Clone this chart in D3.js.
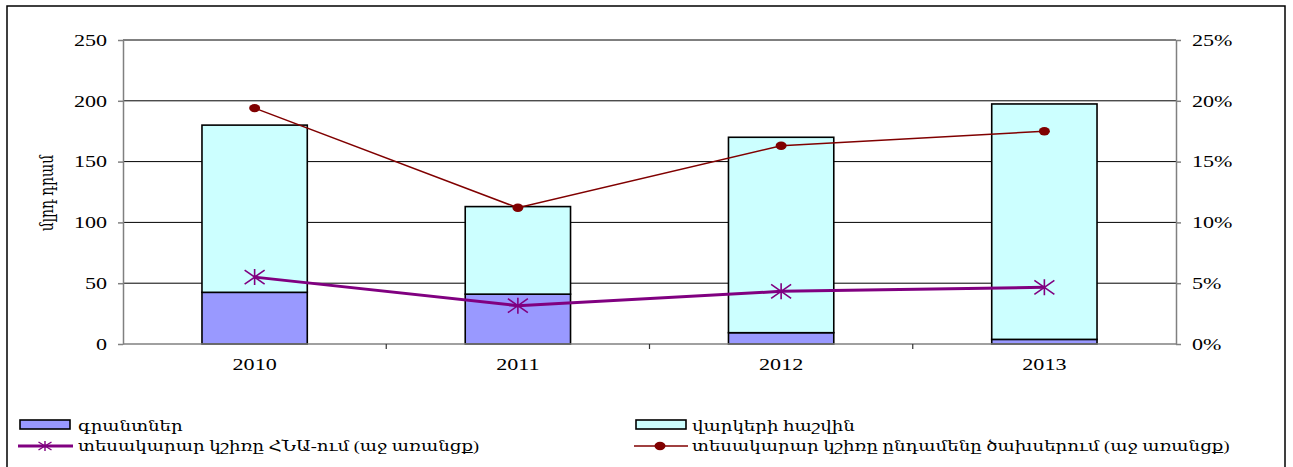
<!DOCTYPE html>
<html>
  <head>
    <meta charset="utf-8">
    <script src="https://cdn.jsdelivr.net/npm/d3@7"></script>
    <style>
      body { margin: 0; background: #fff; }
      text { font-family: "Liberation Serif", "DejaVu Serif", serif; fill: #000; }
    </style>
  </head>
  <body>
    <svg width="1293" height="467" id="mainsvg"></svg>
    <script>
      // data
      const years = ['2010', '2011', '2012', '2013'];
      const grants = [42.5, 41, 9.3, 3.8];
      const loans = [137.5, 72, 160.7, 193.6];
      const shareGdp = [5.5, 3.15, 4.33, 4.66];
      const shareSpend = [19.4, 11.2, 16.3, 17.5];
      const leftTicks = [0, 50, 100, 150, 200, 250];
      const rightTicks = [0, 5, 10, 15, 20, 25];
      const yAxisLabel = 'մլրդ դրամ';
      const seriesNames = ['գրանտներ', 'վարկերի հաշվին',
        'տեսակարար կշիռը ՀՆԱ-ում (աջ առանցք)',
        'տեսակարար կշիռը ընդամենը ծախսերում (աջ առանցք)'];

      const svg = d3.select('#mainsvg');
      const sx = 1.38; // the reference text is stretched horizontally
      const plot = {left: 123, right: 1176, top: 40, bottom: 344};

      // outer frame
      svg.append('rect').attr('x', 7).attr('y', 6).attr('width', 1278).attr('height', 480)
        .attr('fill', 'none').attr('stroke', '#000').attr('stroke-width', 1.5);

      const x = d3.scaleBand().domain(years).range([plot.left, plot.right]).paddingInner(0);
      const yL = d3.scaleLinear().domain([0, 250]).range([plot.bottom, plot.top]);
      const yR = d3.scaleLinear().domain([0, 25]).range([plot.bottom, plot.top]);
      const barW = x.bandwidth() * 0.4;
      const cx = d => x(d) + x.bandwidth() / 2;

      const stretchText = (sel, tx, ty, k = sx) => sel.attr('x', 0).attr('y', 0)
        .attr('transform', `translate(${tx},${ty}) scale(${k},1)`);

      // gridlines
      svg.append('g').selectAll('line').data(leftTicks.slice(1)).join('line')
        .attr('x1', plot.left).attr('x2', plot.right)
        .attr('y1', d => yL(d)).attr('y2', d => yL(d))
        .attr('stroke', '#000').attr('stroke-width', 1);

      // stacked bars
      const stack = years.map((yr, i) => ({yr, g: grants[i], l: loans[i]}));
      const bars = svg.append('g');
      bars.selectAll('.grant').data(stack).join('rect').attr('class', 'grant')
        .attr('x', d => cx(d.yr) - barW / 2).attr('width', barW)
        .attr('y', d => yL(d.g)).attr('height', d => yL(0) - yL(d.g))
        .attr('fill', '#9999ff').attr('stroke', '#000').attr('stroke-width', 1.6);
      bars.selectAll('.loan').data(stack).join('rect').attr('class', 'loan')
        .attr('x', d => cx(d.yr) - barW / 2).attr('width', barW)
        .attr('y', d => yL(d.g + d.l)).attr('height', d => yL(d.g) - yL(d.g + d.l))
        .attr('fill', '#ccffff').attr('stroke', '#000').attr('stroke-width', 1.6);

      // left axis
      const axL = svg.append('g').attr('transform', `translate(${plot.left},0)`)
        .call(d3.axisLeft(yL).tickValues(leftTicks).tickSize(5).tickSizeOuter(0));
      axL.select('.domain').attr('stroke', '#808080').attr('stroke-width', 1.5);
      axL.selectAll('.tick line').attr('stroke', '#808080').attr('stroke-width', 1.5);
      axL.selectAll('.tick text').attr('dy', null).attr('font-size', 16)
        .attr('font-family', '"Liberation Serif", serif')
        .attr('dominant-baseline', 'central').attr('text-anchor', 'end')
        .each(function () { stretchText(d3.select(this), -16, 0); });

      // right axis
      const axR = svg.append('g').attr('transform', `translate(${plot.right},0)`)
        .call(d3.axisRight(yR).tickValues(rightTicks).tickSize(5).tickSizeOuter(0)
          .tickFormat(d => d + '%'));
      axR.select('.domain').attr('stroke', '#808080').attr('stroke-width', 1.5);
      axR.selectAll('.tick line').attr('stroke', '#808080').attr('stroke-width', 1.5);
      axR.selectAll('.tick text').attr('dy', null).attr('font-size', 16)
        .attr('font-family', '"Liberation Serif", serif')
        .attr('dominant-baseline', 'central').attr('text-anchor', 'start')
        .each(function () { stretchText(d3.select(this), 16, 0); });

      // bottom axis
      const axB = svg.append('g');
      axB.append('line').attr('x1', plot.left).attr('x2', plot.right)
        .attr('y1', plot.bottom).attr('y2', plot.bottom)
        .attr('stroke', '#808080').attr('stroke-width', 1.5);
      axB.selectAll('.sep').data(years.slice(1)).join('line').attr('class', 'sep')
        .attr('x1', d => x(d)).attr('x2', d => x(d))
        .attr('y1', plot.bottom).attr('y2', plot.bottom + 5)
        .attr('stroke', '#333').attr('stroke-width', 1.2);
      axB.selectAll('text').data(years).join('text')
        .attr('font-size', 16).attr('text-anchor', 'middle')
        .text(d => d)
        .each(function (d) { stretchText(d3.select(this), cx(d), 370); });

      // y axis title
      svg.append('text').attr('font-size', 14).attr('text-anchor', 'middle')
        .attr('font-family', '"DejaVu Serif", serif')
        .attr('dominant-baseline', 'central')
        .attr('transform', `translate(47,193) rotate(-90) scale(1,${sx})`)
        .text(yAxisLabel);

      // lines on right axis
      const line = d3.line().x((d, i) => cx(years[i])).y(d => yR(d));
      svg.append('path').datum(shareSpend).attr('d', line)
        .attr('fill', 'none').attr('stroke', '#800000').attr('stroke-width', 1.5);
      svg.append('g').selectAll('ellipse').data(shareSpend).join('ellipse')
        .attr('cx', (d, i) => cx(years[i])).attr('cy', d => yR(d))
        .attr('rx', 5.5).attr('ry', 4.2).attr('fill', '#800000');

      svg.append('path').datum(shareGdp).attr('d', line)
        .attr('fill', 'none').attr('stroke', '#800080').attr('stroke-width', 3);
      const star = (w, h) => `M${-w},${-h}L${w},${h}M${-w},${h}L${w},${-h}M0,${-h - 1}L0,${h + 1}`;
      svg.append('g').selectAll('path').data(shareGdp).join('path')
        .attr('transform', (d, i) => `translate(${cx(years[i])},${yR(d)})`)
        .attr('d', star(10, 7)).attr('fill', 'none')
        .attr('stroke', '#800080').attr('stroke-width', 1.6);

      // legend
      const lg = svg.append('g').attr('font-family', '"DejaVu Serif", serif');
      const legendText = (t, tx, ty) => lg.append('text').attr('font-size', 14)
        .text(t).call(s => stretchText(s, tx, ty, 1.3));
      lg.append('rect').attr('x', 20).attr('y', 420).attr('width', 50).attr('height', 9)
        .attr('fill', '#9999ff').attr('stroke', '#000').attr('stroke-width', 1.6);
      legendText(seriesNames[0], 78, 431);
      lg.append('rect').attr('x', 636).attr('y', 420).attr('width', 50).attr('height', 9)
        .attr('fill', '#ccffff').attr('stroke', '#000').attr('stroke-width', 1.6);
      legendText(seriesNames[1], 692, 431);

      lg.append('line').attr('x1', 18).attr('x2', 73).attr('y1', 446).attr('y2', 446)
        .attr('stroke', '#800080').attr('stroke-width', 3);
      lg.append('path').attr('transform', 'translate(45,446)').attr('d', star(6.5, 4))
        .attr('fill', 'none').attr('stroke', '#800080').attr('stroke-width', 1.4);
      legendText(seriesNames[2], 78, 451);

      lg.append('line').attr('x1', 634).attr('x2', 688).attr('y1', 446).attr('y2', 446)
        .attr('stroke', '#800000').attr('stroke-width', 1.5);
      lg.append('ellipse').attr('cx', 660).attr('cy', 446).attr('rx', 5.5).attr('ry', 4.2)
        .attr('fill', '#800000');
      legendText(seriesNames[3], 692, 451);
    </script>
  </body>
</html>
